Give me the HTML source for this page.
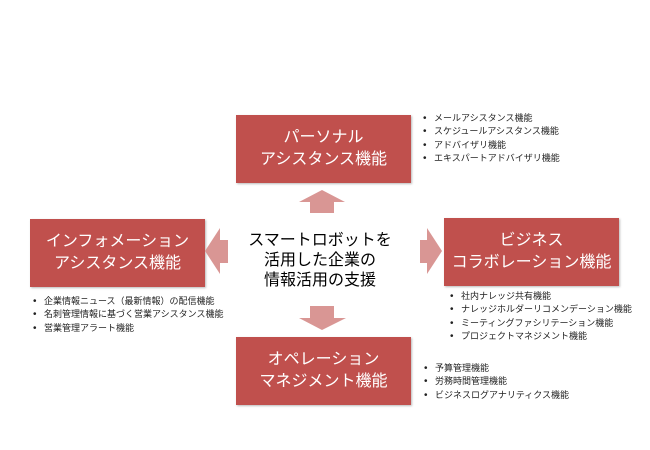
<!DOCTYPE html><html><head><meta charset="utf-8"><style>
body{margin:0;width:650px;height:450px;background:#fff;position:relative;overflow:hidden;font-family:"Liberation Sans","Noto Sans CJK JP",sans-serif}
.b{position:absolute;width:175px;height:68px;background:#c0504d;color:#fff;font-size:16px;line-height:22px;text-align:center;display:flex;align-items:center;justify-content:center;box-shadow:1px 1px 2px #bbb;white-space:nowrap}
.l{position:absolute;font-size:9px;line-height:13.3px;color:#222;margin:0;padding:0;list-style:none;white-space:nowrap}
.l li:before{content:"•";display:inline-block;width:11px;font-size:10px}
.c{position:absolute;left:235px;top:231px;width:170px;text-align:center;font-size:16px;line-height:20px;color:#000;white-space:nowrap}
</style></head><body>
<div class="b" style="left:236px;top:115px">パーソナル<br>アシスタンス機能</div>
<div class="b" style="left:30px;top:219px">インフォメーション<br>アシスタンス機能</div>
<div class="b" style="left:444px;top:218px">ビジネス<br>コラボレーション機能</div>
<div class="b" style="left:236px;top:337px">オペレーション<br>マネジメント機能</div>
<div class="c">スマートロボットを<br>活用した企業の<br>情報活用の支援</div>
<svg width="650" height="450" style="position:absolute;left:0;top:0">
<g fill="#d99694">
<polygon points="322,190 345,202 334,202 334,213 310,213 310,202 299,202"/>
<polygon points="322,330 346,318 334,318 334,306 310,306 310,318 299,318"/>
<polygon points="205,251 220,228 220,240 228,240 228,263 220,263 220,274"/>
<polygon points="442,251 427,228 427,240 420,240 420,263 427,263 427,274"/>
</g></svg>
<ul class="l" style="left:423px;top:112px"><li>メールアシスタンス機能</li><li>スケジュールアシスタンス機能</li><li>アドバイザリ機能</li><li>エキスパートアドバイザリ機能</li></ul>
<ul class="l" style="left:33px;top:295px"><li>企業情報ニュース（最新情報）の配信機能</li><li>名刺管理情報に基づく営業アシスタンス機能</li><li>営業管理アラート機能</li></ul>
<ul class="l" style="left:450px;top:290px"><li>社内ナレッジ共有機能</li><li>ナレッジホルダーリコメンデーション機能</li><li>ミーティングファシリテーション機能</li><li>プロジェクトマネジメント機能</li></ul>
<ul class="l" style="left:424px;top:362px"><li>予算管理機能</li><li>労務時間管理機能</li><li>ビジネスログアナリティクス機能</li></ul>
</body></html>
